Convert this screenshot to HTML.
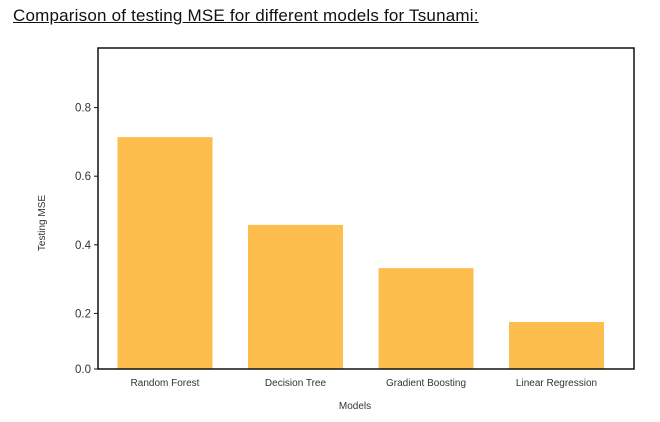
<!DOCTYPE html>
<html><head><meta charset="utf-8"><style>
body{margin:0;background:#fff;width:660px;height:422px;overflow:hidden;font-family:"Liberation Sans","DejaVu Sans",sans-serif}
#title{position:absolute;left:13px;top:6px;font-size:17px;text-decoration:underline;color:#111;letter-spacing:0.2px}
</style></head><body>
<div id="title">Comparison of testing MSE for different models for Tsunami:</div>
<svg id="chart" width="660" height="422" style="position:absolute;left:0;top:0"></svg>
<script>
const categories=["Random Forest","Decision Tree","Gradient Boosting","Linear Regression"];
const mseValues=[0.714,0.458,0.332,0.175];
const yTicks=[0.0,0.2,0.4,0.6,0.8];
const yTickLabels=["0.0","0.2","0.4","0.6","0.8"];
const NS="http://www.w3.org/2000/svg";
const svg=document.getElementById('chart');
const L=98,R=634,T=48,B=369;
function y(v){return Math.min(B,382-343*v);}
function x(i){return 165+i*130.5;}
function mk(t,a){const e=document.createElementNS(NS,t);for(const k in a)e.setAttribute(k,a[k]);svg.appendChild(e);return e;}
categories.forEach((c,i)=>{
 const b=mk('rect',{x:x(i)-47.5,y:y(mseValues[i]),width:95,height:B-y(mseValues[i]),fill:'#FDBE4E'});
 
 
 const t=mk('text',{x:x(i),y:386,'text-anchor':'middle','font-size':10,fill:'#333'});
 t.textContent=c;
 
 
});
const f=mk('rect',{x:L,y:T,width:R-L,height:B-T,fill:'none',stroke:'#111','stroke-width':1.5});


yTicks.forEach((v,i)=>{
 const yy=y(v);
 mk('line',{x1:L-4,x2:L,y1:yy,y2:yy,stroke:'#111','stroke-width':1});
 const t=mk('text',{x:L-7,y:yy+4,'text-anchor':'end','font-size':11.5,fill:'#333'});
 t.textContent=yTickLabels[i];
 
 
});
const xt=mk('text',{x:355,y:409,'text-anchor':'middle','font-size':10,fill:'#333'});
xt.textContent='Models';


const yt=mk('text',{x:0,y:0,'text-anchor':'middle','font-size':10,fill:'#333',transform:'translate(45,223) rotate(-90)'});
yt.textContent='Testing MSE';


</script>
</body></html>
